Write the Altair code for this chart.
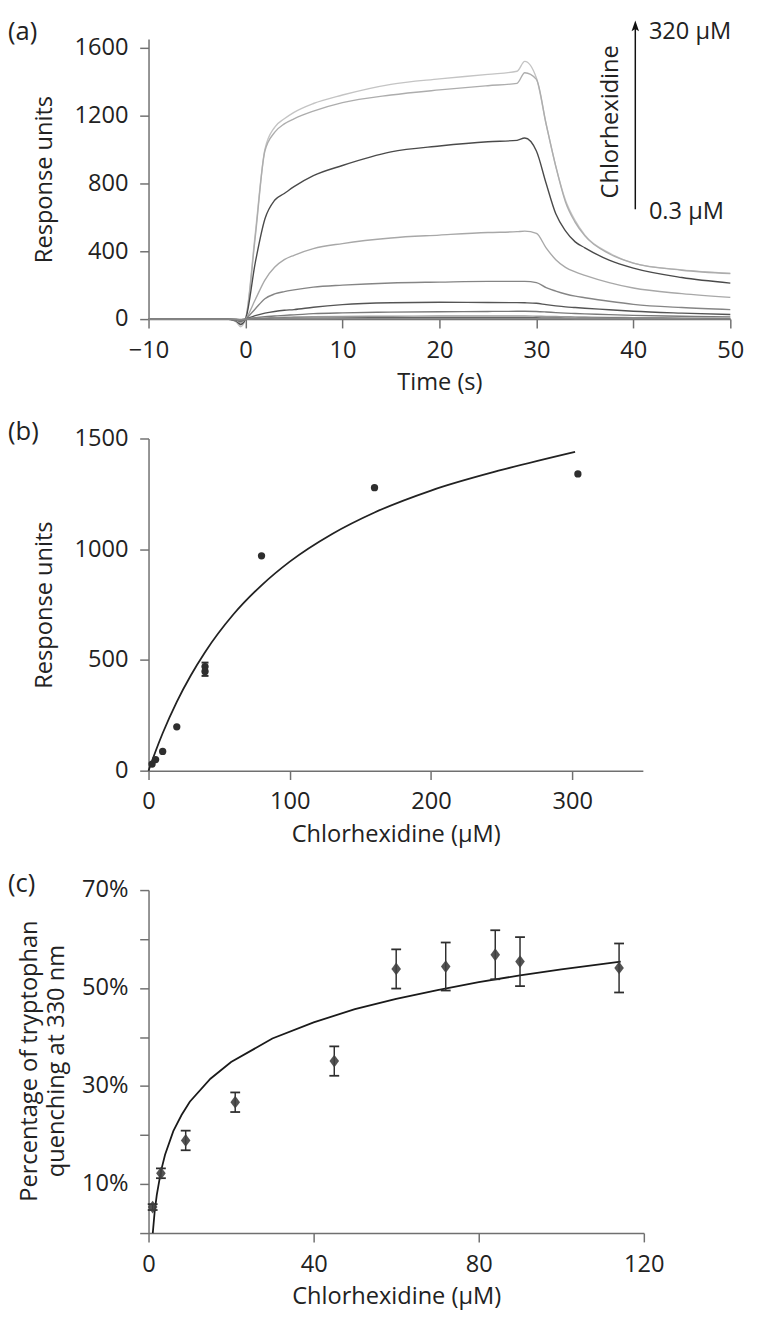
import altair as alt
import pandas as pd

FONT = "Open Sans"

# ---------------- Panel (a): sensorgrams ----------------
time_s = [-10, -2, -1, -0.5, 0, 1, 2, 3, 4, 5, 7, 10, 15, 20, 25, 28, 28.8, 30, 31, 32, 33, 34, 35, 37.5, 40, 45, 50]
ru_320 = [0, 0, -15, -45, 0, 500, 1000, 1130, 1180, 1218, 1270, 1320, 1383, 1415, 1442, 1460, 1518, 1420, 1150, 900, 700, 580, 495, 390, 330, 290, 270]
ru_160 = [0, 0, -10, -35, 0, 480, 990, 1100, 1150, 1180, 1225, 1275, 1320, 1350, 1375, 1389, 1451, 1412, 1150, 900, 690, 570, 490, 385, 330, 288, 268]
ru_80 = [0, 0, -10, -30, 0, 330, 590, 700, 740, 780, 845, 905, 985, 1020, 1045, 1053, 1067, 990, 800, 620, 520, 455, 420, 347, 300, 245, 212]
ru_40 = [0, 0, -8, -20, 0, 114, 230, 305, 350, 376, 415, 445, 478, 495, 510, 515, 518, 505, 420, 350, 305, 278, 258, 215, 183, 150, 128]
ru_20 = [0, 0, -5, -15, 0, 60, 120, 148, 162, 172, 188, 200, 213, 218, 222, 222, 222, 215, 185, 165, 148, 135, 126, 105, 87, 68, 56]
ru_10 = [0, 0, -4, -10, 0, 20, 35, 45, 52, 56, 70, 85, 96, 99, 98, 97, 96, 93, 85, 78, 72, 68, 64, 55, 46, 35, 27]
ru_5 = [0, 0, -3, -8, 0, 8, 14, 18, 22, 25, 32, 37, 41, 43, 45, 46, 46, 45, 42, 38, 35, 33, 31, 26, 22, 17, 13]
ru_2_5 = [0, 0, -2, -6, 0, 4, 7, 9, 11, 12, 14, 16, 17, 18, 18, 18, 18, 17, 16, 15, 14, 13, 12, 10, 9, 7, 6]
ru_1_25 = [0, 0, -2, -5, 0, 2, 3, 4, 5, 5, 6, 7, 8, 8, 8, 8, 8, 8, 7, 7, 6, 6, 6, 5, 4, 3, 3]
ru_0_6 = [0, 0, -1, -4, 0, 1, 1, 2, 2, 2, 2, 3, 3, 3, 3, 3, 3, 3, 3, 3, 3, 2, 2, 2, 2, 2, 1]
curve_names = ["320", "160", "80", "40", "20", "10", "5", "2.5", "1.25", "0.6"]
curve_values = [ru_320, ru_160, ru_80, ru_40, ru_20, ru_10, ru_5, ru_2_5, ru_1_25, ru_0_6]
curve_colors = ["#c4c4c4", "#adadad", "#4a4a4a", "#a8a8a8", "#858585", "#555555", "#7a7a7a", "#9a9a9a", "#666666", "#8a8a8a"]

# annotation (arrow of increasing concentration), in data units
arrow_t = [40.2]
arrow_lo = [647]
arrow_hi = [1722]
ann_text = ["320 μM", "0.3 μM"]
ann_t = [41.6, 41.6]
ann_y = [1688, 633]

# ---------------- Panel (b): steady-state response ----------------
conc_b = [2.5, 5, 10, 20, 40, 40, 80, 160, 304]
resp_b = [30, 50, 87, 198, 448, 470, 970, 1278, 1340]
err_b_conc = [40]
err_b_lo = [428]
err_b_hi = [488]
fit_b_x = [0, 2.5, 5, 10, 20, 30, 40, 60, 80, 100, 130, 160, 200, 250, 302]
fit_b_y = [0, 45, 88, 169, 311, 431, 535, 705, 837, 944, 1069, 1166, 1265, 1358, 1440]

# ---------------- Panel (c): tryptophan quenching ----------------
conc_c = [1, 3, 9, 21, 45, 60, 72, 84, 90, 114]
quench_c = [5.3, 12.2, 18.9, 26.7, 35.1, 53.9, 54.4, 56.8, 55.4, 54.1]
err_c = [0.6, 1.0, 2.0, 2.0, 3.0, 4.0, 4.9, 5.0, 5.0, 5.0]
fit_c_x = [1.03, 1.5, 2, 3, 4, 6, 8, 10, 15, 20, 30, 40, 50, 60, 70, 80, 90, 100, 114.4]
fit_c_y = [0, 4.5, 7.8, 12.6, 16.0, 20.8, 24.1, 26.8, 31.5, 34.9, 39.7, 43.0, 45.7, 47.8, 49.6, 51.2, 52.6, 53.8, 55.4]
ytitle_c = ["Percentage of tryptophan", "quenching at 330 nm"]

# ---------------- build tables ----------------
rows = []
for name, vals in zip(curve_names, curve_values):
    for i, (t, v) in enumerate(zip(time_s, vals)):
        rows.append({"conc": name, "t": t, "ru": v, "i": i})
df_a = pd.DataFrame(rows)

TXT = "#222222"
AX = "#707070"
XPAD = dict(labelPadding=11, titlePadding=9)

xa = alt.X("t:Q", scale=alt.Scale(domain=[-10, 50], nice=False),
           axis=alt.Axis(values=[-10, 0, 10, 20, 30, 40, 50], title="Time (s)", **XPAD))
ya = alt.Y("ru:Q", scale=alt.Scale(domain=[0, 1650], nice=False),
           axis=alt.Axis(values=[0, 400, 800, 1200, 1600], format="d", title="Response units",
                         labelPadding=12, titlePadding=18))

lines_a = alt.Chart(df_a).mark_line(strokeWidth=1.4, interpolate="monotone").encode(
    x=xa, y=ya,
    color=alt.Color("conc:N", scale=alt.Scale(domain=curve_names, range=curve_colors), legend=None),
    order="i:Q",
)

arrow_df = pd.DataFrame({"t": arrow_t, "lo": arrow_lo, "hi": arrow_hi})
arrow_line = alt.Chart(arrow_df).mark_rule(color="#111", strokeWidth=1.5).encode(
    x="t:Q", y="lo:Q", y2="hi:Q")
arrow_head = alt.Chart(arrow_df).mark_point(
    shape="M0,-1L0.6,0.7L0,0.35L-0.6,0.7Z", filled=True, color="#111", size=160, opacity=1
).encode(x="t:Q", y="hi:Q")
ann_df = pd.DataFrame({"t": ann_t, "y": ann_y, "txt": ann_text})
ann_txt = alt.Chart(ann_df).mark_text(align="left", baseline="middle", font=FONT, fontSize=24, color=TXT).encode(
    x="t:Q", y="y:Q", text="txt:N")
chl_df = pd.DataFrame({"t": [37.7], "y": [1162], "txt": ["Chlorhexidine"]})
chl_txt = alt.Chart(chl_df).mark_text(align="center", baseline="middle", angle=270, font=FONT, fontSize=24, color=TXT).encode(
    x="t:Q", y="y:Q", text="txt:N")


def panel_label(s, y):
    return alt.Chart(pd.DataFrame({"lab": [s]})).mark_text(
        align="left", baseline="middle", font=FONT, fontSize=26, color=TXT
    ).encode(x=alt.value(-143), y=alt.value(y), text="lab:N")


panel_a = alt.layer(lines_a, arrow_line, arrow_head, ann_txt, chl_txt, panel_label("(a)", -7)).properties(
    width=592, height=285)

# panel (b)
df_b = pd.DataFrame({"c": conc_b, "r": resp_b})
df_bfit = pd.DataFrame({"c": fit_b_x, "r": fit_b_y})
df_berr = pd.DataFrame({"c": err_b_conc, "lo": err_b_lo, "hi": err_b_hi})
df_bcap = pd.DataFrame({"c": err_b_conc * 2, "r": err_b_lo + err_b_hi})

xb = alt.X("c:Q", scale=alt.Scale(domain=[0, 350], nice=False),
           axis=alt.Axis(values=[0, 100, 200, 300], title="Chlorhexidine (μM)", **XPAD))
yb = alt.Y("r:Q", scale=alt.Scale(domain=[0, 1500], nice=False),
           axis=alt.Axis(values=[0, 500, 1000, 1500], format="d", title="Response units",
                         labelPadding=12, titlePadding=18))

fit_b = alt.Chart(df_bfit).mark_line(color="#222", strokeWidth=1.8, interpolate="monotone").encode(x=xb, y=yb)
pts_b = alt.Chart(df_b).mark_circle(color="#2e2e2e", size=55, opacity=1).encode(x="c:Q", y="r:Q")
err_b = alt.Chart(df_berr).mark_rule(color="#2e2e2e", strokeWidth=1.5).encode(x="c:Q", y="lo:Q", y2="hi:Q")
cap_b = alt.Chart(df_bcap).mark_point(shape="M-1,0L1,0", filled=False, color="#2e2e2e", size=50, strokeWidth=2, opacity=1).encode(
    x="c:Q", y="r:Q")
panel_b = alt.layer(fit_b, err_b, cap_b, pts_b, panel_label("(b)", -6)).properties(width=503, height=338)

# panel (c)
df_c = pd.DataFrame({"c": conc_c, "q": quench_c, "e": err_c})
df_c["lo"] = df_c["q"] - df_c["e"]
df_c["hi"] = df_c["q"] + df_c["e"]
df_cfit = pd.DataFrame({"c": fit_c_x, "q": fit_c_y})
df_ccap = pd.concat([df_c[["c", "lo"]].rename(columns={"lo": "v"}), df_c[["c", "hi"]].rename(columns={"hi": "v"})])

xc = alt.X("c:Q", scale=alt.Scale(domain=[0, 120], nice=False),
           axis=alt.Axis(values=[0, 40, 80, 120], title="Chlorhexidine (μM)", **XPAD))
yc = alt.Y("q:Q", scale=alt.Scale(domain=[0, 70], nice=False),
           axis=alt.Axis(values=[0, 10, 20, 30, 40, 50, 60, 70],
                         labelExpr="datum.value % 20 == 10 ? datum.value + '%' : ''",
                         title=None, labelPadding=12))

fit_c = alt.Chart(df_cfit).mark_line(color="#1a1a1a", strokeWidth=1.8).encode(x=xc, y=yc)
err_c_m = alt.Chart(df_c).mark_rule(color="#2e2e2e", strokeWidth=1.5).encode(x="c:Q", y="lo:Q", y2="hi:Q")
cap_c = alt.Chart(df_ccap).mark_point(shape="M-1,0L1,0", filled=False, color="#2e2e2e", size=100, strokeWidth=1.8, opacity=1).encode(
    x="c:Q", y="v:Q")
pts_c = alt.Chart(df_c).mark_point(shape="M0,-1L0.75,0L0,1L-0.75,0Z", filled=True, color="#404040", size=169, opacity=0.9).encode(
    x="c:Q", y="q:Q")
ytc_1 = alt.Chart(pd.DataFrame({"s": [ytitle_c[0]]})).mark_text(
    angle=270, align="center", baseline="middle", font=FONT, fontSize=24, color=TXT
).encode(x=alt.value(-120), y=alt.value(174), text="s:N")
ytc_2 = alt.Chart(pd.DataFrame({"s": [ytitle_c[1]]})).mark_text(
    angle=270, align="center", baseline="middle", font=FONT, fontSize=24, color=TXT
).encode(x=alt.value(-93), y=alt.value(174), text="s:N")
panel_c = alt.layer(fit_c, err_c_m, cap_c, pts_c, ytc_1, ytc_2, panel_label("(c)", -6)).properties(width=504, height=349)

chart = alt.vconcat(panel_a, panel_b, panel_c, spacing=121.5, bounds="flush").properties(
    padding={"left": 0, "top": 0, "right": 5, "bottom": 5}
).configure_view(stroke=None).configure_axis(
    grid=False,
    labelFont=FONT, titleFont=FONT,
    labelFontSize=24, titleFontSize=24,
    titleFontWeight="normal",
    labelColor=TXT, titleColor=TXT,
    domainColor=AX, tickColor=AX,
    domainWidth=1.5, tickWidth=1.5,
    tickSize=9,
    labelFlush=False, labelOverlap=False,
)

chart.save("out.html", embed_options={"renderer": "svg", "actions": False})
